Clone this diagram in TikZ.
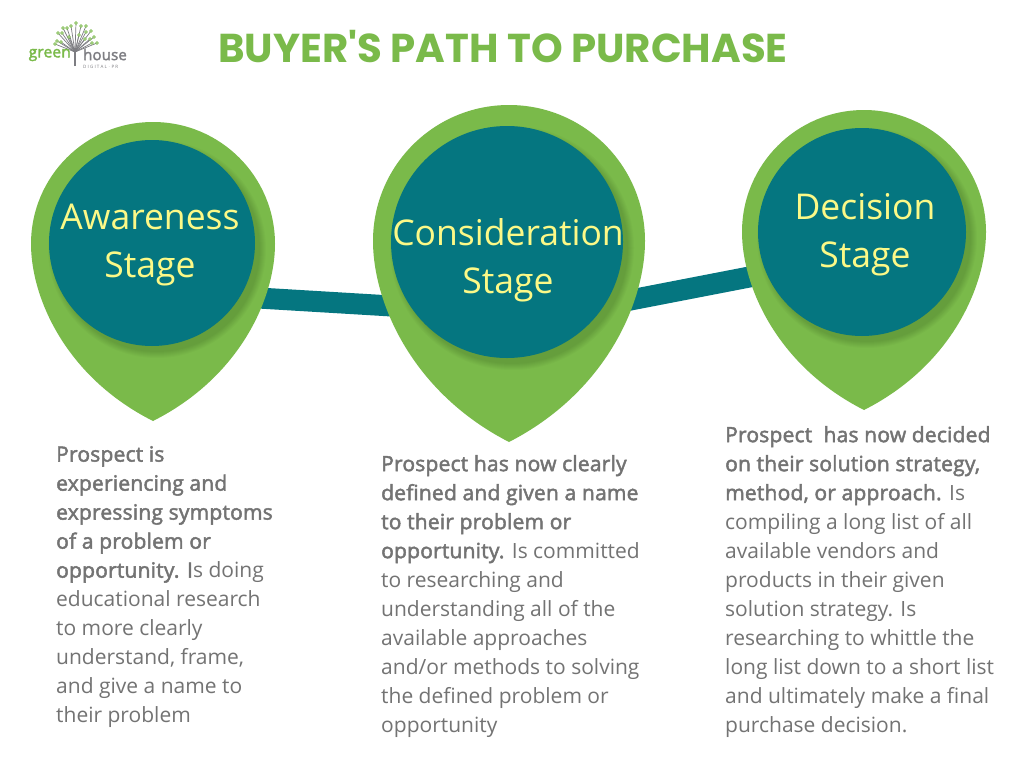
\documentclass[tikz,border=0pt]{standalone}
\usepackage{fontspec}
\setmainfont{Open Sans}[BoldFont={Open Sans},BoldFeatures={FakeBold=2.2,LetterSpace=1}]
\newfontfamily\titlefont{Poppins}
\usetikzlibrary{positioning,calc}
\definecolor{pingreen}{RGB}{122,186,74}
\definecolor{pinteal}{RGB}{5,118,128}
\definecolor{stageyellow}{RGB}{252,249,135}
\definecolor{bodygrey}{RGB}{115,115,115}
\definecolor{logogrey}{RGB}{125,125,130}
\newcommand{\pinshape}[4]{% x, y, radius, tip depth
  \fill[pingreen] (#1,#2+#4) .. controls (#1-0.72*#3,#2+0.75*#4) and (#1-#3,#2+0.30*#4) .. (#1-#3,#2)
    arc[start angle=180,end angle=0,x radius=#3,y radius=-#3]
    .. controls (#1+#3,#2+0.30*#4) and (#1+0.72*#3,#2+0.75*#4) .. (#1,#2+#4) -- cycle;
}
\newcommand{\softshadow}[3]{% x, y, radius
  \foreach \grow in {6,5,4,3,2,1,0}
    \fill[black,opacity=0.02] (#1+5,#2+6) circle[radius=#3+\grow];
}
\begin{document}
\begin{tikzpicture}[x=1pt,y=-1pt,
  bar/.style={draw=pinteal, line width=21pt},
  stage/.style={circle, fill=pinteal, inner sep=0pt},
  stagetxt/.style={text=stageyellow, inner sep=0pt, align=center, font=\fontsize{35.5}{48}\selectfont},
  body/.style={anchor=north west, inner sep=0pt, align=left, text=bodygrey, font=\fontsize{21}{29}\selectfont},
  branch/.style={draw=logogrey, line width=0.7pt},
  bud/.style={draw=pingreen, line width=0.7pt, fill=white},
]
\useasboundingbox (0,0) rectangle (1024,768);
\fill[white] (0,0) rectangle (1024,768);
% connecting bars
\coordinate (b1a) at (250,297.5);
\coordinate (b1b) at (400,306.5);
\coordinate (b2a) at (615,303);
\coordinate (b2b) at (770,273);
\draw[bar] (b1a)--(b1b);
\draw[bar] (b2a)--(b2b);
% pins
\pinshape{153}{244}{122}{177}
\pinshape{509}{241}{136}{201}
\pinshape{864}{232}{122}{178}
\softshadow{152}{243}{103}
\softshadow{507}{242}{116}
\softshadow{862}{232}{104}
\node[stage,minimum size=206pt] (aware) at (152,243) {};
\node[stage,minimum size=232pt] (consid) at (507,242) {};
\node[stage,minimum size=208pt] (decis) at (862,232) {};
\node[stagetxt] (awaretxt) at (150,245) {Awareness\\Stage};
\node[stagetxt] (considtxt) at (508,260) {Consideration\\Stage};
\node[stagetxt] (decistxt) at (865,235) {Decision\\Stage};
% title
\node[text=pingreen, font=\titlefont\bfseries\fontsize{40.3}{44}\selectfont] (title) at (503,47) {BUYER'S PATH TO PURCHASE};
% body texts
\node[body] (awarebody) at (56,446) {\textbf{Prospect is}\\\textbf{experiencing and}\\\textbf{expressing symptoms}\\\textbf{of a problem or}\\\textbf{opportunity. I}s doing\\educational research\\to more clearly\\understand, frame,\\and give a name to\\their problem};
\node[body] (considbody) at (381,455) {\textbf{Prospect has now clearly}\\\textbf{defined and given a name}\\\textbf{to their problem or}\\\textbf{opportunity.} Is committed\\to researching and\\understanding all of the\\available approaches\\and/or methods to solving\\the defined problem or\\opportunity};
\node[body] (decisbody) at (725,426) {\textbf{Prospect\ \ has now decided}\\\textbf{on their solution strategy,}\\\textbf{method, or approach.} Is\\compiling a long list of all\\available vendors and\\products in their given\\solution strategy. Is\\researching to whittle the\\long list down to a short list\\and ultimately make a final\\purchase decision.};
% logo
\foreach \ex/\ey in {76/23,71/26,67/28,63/28,81/26,86/26,58/33,62/33,86/32,91/31,79/35,69/37,94/37,90/39,85/39,57/41,55/44,97/43,61/42,92/43}
  \draw[branch] (75,52) -- (\ex,\ey);
\draw[branch,line width=1.6pt] (75,66) -- (75,48);
\foreach \ex/\ey in {76/23,71/26,67/28,63/28,81/26,86/26,58/33,62/33,86/32,91/31,79/35,69/37,94/37,90/39,85/39,57/41,55/44,97/43,61/42,92/43}
  \draw[bud] (\ex,\ey) circle[radius=1.3];
\node[text=pingreen, font=\bfseries\fontsize{15.5}{15}\selectfont, anchor=east, inner sep=0pt] (logoa) at (71,55) {green};
\node[text=logogrey, font=\bfseries\fontsize{15}{15}\selectfont, anchor=west, inner sep=0pt] (logob) at (83,54.5) {house};
\node[text=logogrey, font=\fontsize{4.5}{4.5}\selectfont, anchor=west, inner sep=0pt] (logoc) at (83,66.5) {D I G I T A L $\cdot$ P R};
\end{tikzpicture}
\end{document}
